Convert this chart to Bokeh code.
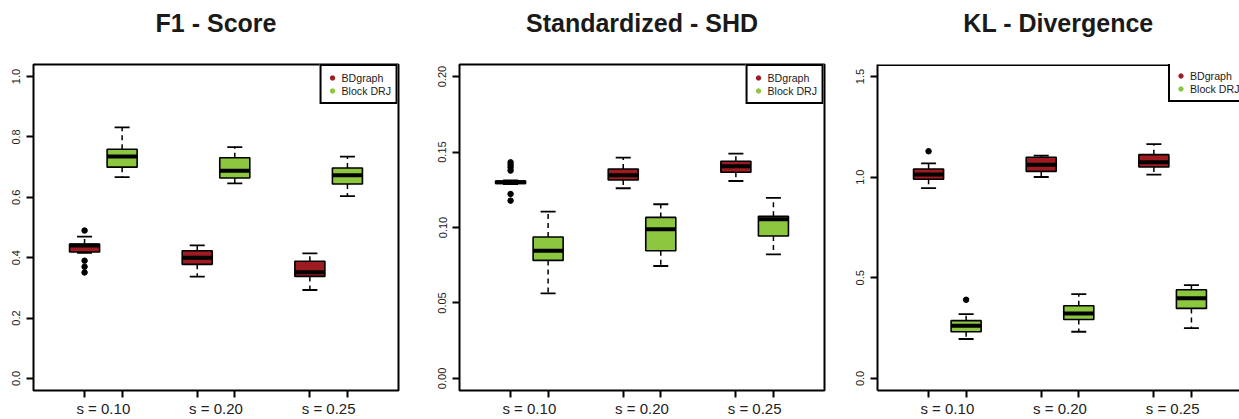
from bokeh.plotting import figure
from bokeh.layouts import row
from bokeh.models import (Range1d, FixedTicker, LinearAxis, Legend, LegendItem,
                          ColumnDataSource, Title, Span)
from bokeh.embed import file_html
from bokeh.resources import INLINE

# ---------------- data ----------------
groups = ["s = 0.10", "s = 0.20", "s = 0.25"]
methods = ["BDgraph", "Block DRJ"]
colors = ["#9E1B22", "#8DC63F"]
# box order: BD s=.10, DRJ s=.10, BD s=.20, DRJ s=.20, BD s=.25, DRJ s=.25
f1_lower = [0.416, 0.667, 0.337, 0.646, 0.293, 0.604]
f1_q1 = [0.419, 0.700, 0.378, 0.664, 0.338, 0.644]
f1_med = [0.440, 0.735, 0.400, 0.688, 0.352, 0.673]
f1_q3 = [0.445, 0.759, 0.423, 0.731, 0.388, 0.697]
f1_upper = [0.470, 0.832, 0.441, 0.766, 0.414, 0.735]
f1_out_box = [0, 0, 0, 0]
f1_out_val = [0.490, 0.390, 0.370, 0.351]
f1_yticks = [0.0, 0.2, 0.4, 0.6, 0.8, 1.0]
f1_ylabels = ["0.0", "0.2", "0.4", "0.6", "0.8", "1.0"]

shd_lower = [0.1288, 0.0564, 0.1260, 0.0745, 0.1308, 0.0822]
shd_q1 = [0.1292, 0.0782, 0.1315, 0.0846, 0.1366, 0.0944]
shd_med = [0.1300, 0.0846, 0.1346, 0.0988, 0.1406, 0.1054]
shd_q3 = [0.1308, 0.0937, 0.1388, 0.1067, 0.1439, 0.1074]
shd_upper = [0.1312, 0.1105, 0.1463, 0.1154, 0.1490, 0.1196]
shd_out_box = [0, 0, 0, 0, 0, 0]
shd_out_val = [0.1432, 0.1414, 0.1397, 0.1377, 0.1222, 0.1178]
shd_yticks = [0.0, 0.05, 0.10, 0.15, 0.20]
shd_ylabels = ["0.00", "0.05", "0.10", "0.15", "0.20"]

kl_lower = [0.946, 0.196, 1.001, 0.232, 1.013, 0.250]
kl_q1 = [0.990, 0.232, 1.029, 0.293, 1.051, 0.348]
kl_med = [1.013, 0.262, 1.062, 0.323, 1.074, 0.398]
kl_q3 = [1.041, 0.287, 1.099, 0.361, 1.112, 0.441]
kl_upper = [1.069, 0.320, 1.107, 0.419, 1.164, 0.464]
kl_out_box = [0, 1]
kl_out_val = [1.129, 0.391]
kl_yticks = [0.0, 0.5, 1.0, 1.5]
kl_ylabels = ["0.0", "0.5", "1.0", "1.5"]

FONT = "Liberation Sans"
BOXW = 0.8
X0, X1 = -0.36, 9.36
FULL_W = 365
H = 419
TOP, BOTTOM = 64, 29
FRAME_H = H - TOP - BOTTOM


def make_panel(title, lower, q1, med, q3, upper, out_box, out_val,
               yticks, ylabels, width, left, right, clipped=False):
    frame_w = width - left - right
    ppu = FULL_W / (X1 - X0)
    x_end = X0 + frame_w / ppu
    ylo, yhi = yticks[0], yticks[-1]
    pad = 0.04 * (yhi - ylo)
    p = figure(width=width, height=H, output_backend="svg", toolbar_location=None,
               x_range=Range1d(X0, x_end), y_range=Range1d(ylo - pad, yhi + pad),
               min_border_left=left, min_border_right=right,
               min_border_top=TOP, min_border_bottom=BOTTOM,
               x_axis_type=None, y_axis_type=None)
    p.grid.visible = False
    p.background_fill_color = "white"
    p.border_fill_color = "white"
    if clipped:
        p.outline_line_color = None
        p.add_layout(Span(location=yhi + pad, dimension="width",
                          line_color="black", line_width=3))
    else:
        p.outline_line_color = "black"
        p.outline_line_width = 2

    # spacer between frame and title, then the title itself
    p.add_layout(Title(text=" ", text_font_size="1px", standoff=25), "above")
    p.add_layout(Title(text=title, text_font=FONT, text_font_size="25px",
                       text_font_style="bold", text_color="#1a1a1a",
                       align="center", standoff=0), "above")

    pos = [3 * (i // 2) + 1 + (i % 2) for i in range(len(med))]
    fills = [colors[i % 2] for i in range(len(med))]
    src = ColumnDataSource(dict(
        x=pos, lower=lower, q1=q1, med=med, q3=q3, upper=upper, fill=fills,
        capl=[x - BOXW / 4 for x in pos], capr=[x + BOXW / 4 for x in pos],
        bl=[x - BOXW / 2 for x in pos], br=[x + BOXW / 2 for x in pos]))

    # whiskers
    p.segment(x0="x", y0="q3", x1="x", y1="upper", source=src, line_color="black",
              line_width=1.5, line_dash="5 4")
    p.segment(x0="x", y0="q1", x1="x", y1="lower", source=src, line_color="black",
              line_width=1.5, line_dash="5 4")
    # caps
    p.segment(x0="capl", y0="upper", x1="capr", y1="upper", source=src,
              line_color="black", line_width=1.8)
    p.segment(x0="capl", y0="lower", x1="capr", y1="lower", source=src,
              line_color="black", line_width=1.8)
    # boxes
    p.vbar(x="x", width=BOXW, top="q3", bottom="q1", source=src, fill_color="fill",
           line_color="black", line_width=1.6)
    # medians
    p.segment(x0="bl", y0="med", x1="br", y1="med", source=src, line_color="black",
              line_width=4)
    # outliers
    ox = [pos[b] for b in out_box]
    p.scatter(ox, out_val, size=5.5, color="black")

    # legend key renderers: tiny dots hidden beneath the median bars
    keys = []
    for m in range(2):
        idx = [i for i in range(len(med)) if i % 2 == m]
        keys.append(p.scatter([pos[i] for i in idx], [med[i] for i in idx],
                              size=0.1, color=colors[m], level="underlay"))
    leg_kw = dict(margin=0, padding=5, spacing=0,
                  glyph_width=11, glyph_height=13, label_height=13,
                  label_standoff=4, label_text_font=FONT,
                  label_text_font_size="10.6px", label_text_color="#1a1a1a",
                  border_line_color="black", border_line_width=2,
                  border_line_alpha=1,
                  background_fill_color="white", background_fill_alpha=1)
    items = [LegendItem(label=methods[0], renderers=[keys[0]]),
             LegendItem(label=methods[1], renderers=[keys[1]])]
    if clipped:
        leg = Legend(items=items, location=(FULL_W - 74, FRAME_H - 38), **leg_kw)
    else:
        leg = Legend(items=items, location="top_right", **leg_kw)
    p.add_layout(leg)

    # x axis: labels at group centers, ticks at box positions (minor ticks)
    xt = FixedTicker(ticks=[3 * g + 1.5 for g in range(len(groups))],
                     minor_ticks=pos)
    xa = LinearAxis(ticker=xt)
    xa.major_label_overrides = {3 * g + 1.5: groups[g] for g in range(len(groups))}
    xa.major_tick_out = 0
    xa.major_tick_in = 0
    xa.minor_tick_out = 7
    xa.minor_tick_in = 0
    xa.minor_tick_line_width = 2
    xa.minor_tick_line_color = "black"
    xa.major_label_standoff = 2
    xa.major_label_text_font = FONT
    xa.major_label_text_font_size = "15px"
    xa.major_label_text_color = "#222222"
    if clipped:
        xa.axis_line_color = "black"
        xa.axis_line_width = 2
    else:
        xa.axis_line_color = None
    p.add_layout(xa, "below")

    ya = LinearAxis(ticker=FixedTicker(ticks=yticks, minor_ticks=[]))
    ya.major_label_overrides = {t: l for t, l in zip(yticks, ylabels)}
    ya.major_tick_out = 7
    ya.major_tick_in = 0
    ya.major_tick_line_width = 2
    ya.major_label_orientation = "vertical"
    ya.major_label_standoff = 6
    ya.major_label_text_font = FONT
    ya.major_label_text_font_size = "11px"
    ya.major_label_text_color = "#222222"
    if clipped:
        ya.axis_line_color = "black"
        ya.axis_line_width = 2
    else:
        ya.axis_line_color = None
    p.add_layout(ya, "left")
    return p


p1 = make_panel("F1 - Score", f1_lower, f1_q1, f1_med, f1_q3, f1_upper,
                f1_out_box, f1_out_val, f1_yticks, f1_ylabels, 415, 33, 17)
p2 = make_panel("Standardized - SHD", shd_lower, shd_q1, shd_med, shd_q3, shd_upper,
                shd_out_box, shd_out_val, shd_yticks, shd_ylabels, 415, 44, 6)
p3 = make_panel("KL - Divergence", kl_lower, kl_q1, kl_med, kl_q3, kl_upper,
                kl_out_box, kl_out_val, kl_yticks, kl_ylabels, 409, 47, 0,
                clipped=True)

layout = row(p1, p2, p3)
open("out.html", "w").write(file_html(layout, INLINE))
